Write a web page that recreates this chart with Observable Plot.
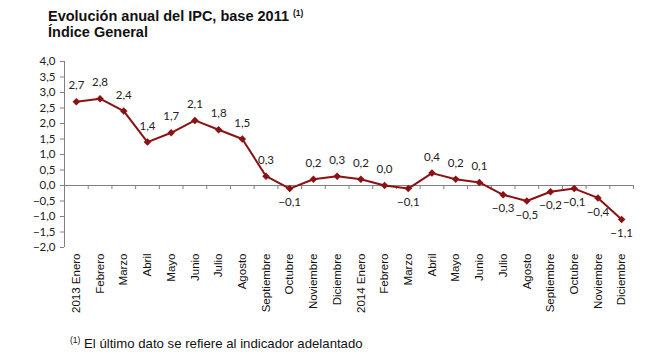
<!DOCTYPE html>
<html>
<head>
<meta charset="utf-8">
<script src="https://cdn.jsdelivr.net/npm/d3@7"></script>
<script src="https://cdn.jsdelivr.net/npm/@observablehq/plot@0.6"></script>
<style>
  html, body { margin: 0; padding: 0; background: #fff; }
  #wrap { position: relative; width: 650px; height: 358px; overflow: hidden; font-family: "Liberation Sans", Arial, sans-serif; }
  #title { position: absolute; left: 48px; top: 5px; font-weight: bold; font-size: 14.5px; line-height: 16px; color: #111; }
  #title sup, #note sup { font-size: 8.5px; vertical-align: 5px; }
  #note sup { font-weight: normal; }
  #note { position: absolute; left: 70px; top: 335px; font-size: 13.2px; color: #111; }
  #chart { position: absolute; left: 0; top: 0; }
</style>
</head>
<body>
<div id="wrap">
  <div id="chart"></div>
  <div id="title">Evolución anual del IPC, base 2011 <sup>(1)</sup><br>Índice General</div>
  <div id="note"><sup>(1)</sup> El último dato se refiere al indicador adelantado</div>
</div>
<script>
const months = ["2013 Enero","Febrero","Marzo","Abril","Mayo","Junio","Julio","Agosto","Septiembre","Octubre","Noviembre","Diciembre",
                "2014 Enero","Febrero","Marzo","Abril","Mayo","Junio","Julio","Agosto","Septiembre","Octubre","Noviembre","Diciembre"];
const ipc = [2.7, 2.8, 2.4, 1.4, 1.7, 2.1, 1.8, 1.5, 0.3, -0.1, 0.2, 0.3,
             0.2, 0.0, -0.1, 0.4, 0.2, 0.1, -0.3, -0.5, -0.2, -0.1, -0.4, -1.1];
const yTicks = [-2, -1.5, -1, -0.5, 0, 0.5, 1, 1.5, 2, 2.5, 3, 3.5, 4];

const data = ipc.map((v, i) => ({i, v, label: months[i]}));
const boundaries = d3.range(months.length + 1).map(i => i - 0.5);
const fmt = d => d3.format(".1f")(d).replace(".", ",");
const red = "#8b1213";

const chart = Plot.plot({
  width: 650,
  height: 358,
  marginTop: 61,
  marginBottom: 111,
  marginLeft: 64,
  marginRight: 17,
  style: {fontFamily: "Lato, sans-serif", fontSize: "11.5px", color: "#222", background: "transparent"},
  x: {type: "linear", domain: [-0.5, months.length - 0.5], label: null},
  y: {domain: [-2, 4], label: null},
  marks: [
    Plot.ruleX([-0.5], {stroke: "#808080", strokeWidth: 1}),
    Plot.ruleY([0], {stroke: "#808080", strokeWidth: 1}),
    Plot.ruleX(boundaries.slice(1), {x: d => d, y1: 0, y2: 0, insetBottom: -4, stroke: "#808080"}),
    Plot.axisY({ticks: yTicks, tickFormat: fmt, tickSize: 4, tickPadding: 5, stroke: "#808080", fontSize: 11.5, fill: "#222", label: null}),
    Plot.axisX({ticks: d3.range(months.length), tickFormat: i => months[i], tickSize: 0, tickPadding: 6, label: null,
                tickRotate: -90, fontFamily: "Liberation Sans, Arial, sans-serif", fontSize: 11.5, fill: "#111"}),
    Plot.line(data, {x: "i", y: "v", stroke: red, strokeWidth: 2}),
    Plot.dot(data, {x: "i", y: "v", symbol: "diamond2", r: 3.4, fill: red, stroke: "none"}),
    Plot.text(data.filter(d => d.v >= 0), {x: "i", y: "v", text: d => fmt(d.v), dy: -16, fill: "#222"}),
    Plot.text(data.filter(d => d.v < 0), {x: "i", y: "v", text: d => fmt(d.v), dy: 14, fill: "#222"})
  ]
});
document.getElementById("chart").appendChild(chart);
</script>
</body>
</html>
